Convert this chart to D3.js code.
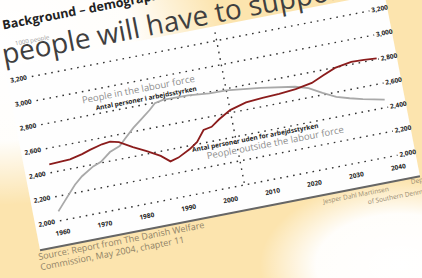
<!DOCTYPE html>
<html>
<head>
<meta charset="utf-8">
<title>Background - demographics</title>
<script src="https://d3js.org/d3.v7.min.js"></script>
<style>
  body { margin: 0; overflow: hidden; background: #fce4ae; }
  text { font-family: "Open Sans", sans-serif; }
</style>
</head>
<body>
<div id="chart"></div>
<script>
// labour force (grey, left axis), 1000 people
const labourYears = [1960, 1962, 1965, 1967, 1970, 1972, 1974.5, 1977, 1978.5, 1981, 1983, 1985.5, 1987, 1989, 1995, 2000, 2004, 2012, 2020, 2023, 2026, 2029, 2032, 2035, 2040];
const labourForce = [2074, 2150, 2262, 2319, 2380, 2405, 2469, 2502, 2550, 2628, 2679, 2744, 2790, 2804, 2802, 2785, 2783, 2748, 2704, 2672, 2612, 2558, 2527, 2499, 2461];

// outside the labour force (red, right axis)
const outsideYears = [1960, 1963, 1965, 1968, 1970, 1973, 1975, 1977, 1980, 1983, 1986, 1988, 1990, 1993, 1995, 1997, 1999, 2001, 2004, 2008, 2012, 2016, 2020, 2024, 2027, 2030, 2034, 2037, 2040];
const outsideForce = [2464, 2470, 2473, 2496, 2518, 2544, 2553, 2535, 2473, 2420, 2359, 2300, 2318, 2369, 2415, 2500, 2513, 2560, 2618, 2655, 2666, 2672, 2685, 2709, 2753, 2793, 2816, 2813, 2805];

const xTicks = [1960, 1970, 1980, 1990, 2000, 2010, 2020, 2030, 2040];
const yTicksLeft = [2000, 2200, 2400, 2600, 2800, 3000, 3200];
const yTicksRight = [2000, 2200, 2400, 2600, 2800, 3000, 3200];
const nowYear = 2004;

const W = 422, H = 278;

const svg = d3.select("#chart").append("svg")
  .attr("width", W).attr("height", H);

const defs = svg.append("defs");
const blob = (id) => {
  const g = defs.append("radialGradient").attr("id", id);
  g.append("stop").attr("offset", "0%").attr("stop-color", "#fff").attr("stop-opacity", 1);
  g.append("stop").attr("offset", "60%").attr("stop-color", "#fff").attr("stop-opacity", 0.95);
  g.append("stop").attr("offset", "100%").attr("stop-color", "#fff").attr("stop-opacity", 0);
};
blob("blobA");
blob("blobB");

// background
svg.append("rect").attr("width", W).attr("height", H).attr("fill", "#fce4ae");
svg.append("ellipse").attr("cx", 0).attr("cy", 45).attr("rx", 225).attr("ry", 160).attr("fill", "url(#blobA)");
svg.append("ellipse").attr("cx", 400).attr("cy", 265).attr("rx", 140).attr("ry", 85).attr("fill", "url(#blobB)");

// the whole slide is photographed at an angle
const slide = svg.append("g").attr("transform", "rotate(-11, 211, 139)");

// white chart panel
slide.append("rect")
  .attr("x", 22).attr("y", 29)
  .attr("width", 387).attr("height", 186)
  .attr("fill", "#fefefe");
slide.append("line")
  .attr("x1", 22).attr("x2", 409).attr("y1", 215.5).attr("y2", 215.5)
  .attr("stroke", "#666").attr("stroke-width", 2);

const x = d3.scaleLinear().domain([1960, 2040]).range([47.4, 389]);
const yL = d3.scaleLinear().domain([2000, 3200]).range([190, 43]);
const yR = d3.scaleLinear().domain([2000, 3200]).range([190, 43]);

// dotted gridlines
slide.append("g")
  .attr("transform", "translate(47,0)")
  .call(d3.axisLeft(yL).tickValues(yTicksLeft).tickSize(-344).tickFormat(""))
  .call(g => g.select(".domain").remove())
  .call(g => g.selectAll("line")
    .attr("stroke", "#333").attr("stroke-width", 1.4)
    .attr("stroke-dasharray", "1.6,5"));

// "now" line
slide.append("line")
  .attr("x1", x(nowYear)).attr("x2", x(nowYear))
  .attr("y1", 35).attr("y2", yL(2000))
  .attr("stroke", "#333").attr("stroke-width", 1.4)
  .attr("stroke-dasharray", "1.6,5");

const styleTicks = g => {
  g.select(".domain").remove();
  g.selectAll("line").remove();
  g.selectAll("text")
    .attr("fill", "#222")
    .style("font-size", "6.5px")
    .style("font-weight", "700");
};

slide.append("g")
  .attr("transform", "translate(47,0)")
  .call(d3.axisLeft(yL).tickValues(yTicksLeft).tickSize(0).tickPadding(5).tickFormat(d3.format(",")))
  .call(styleTicks);

slide.append("g")
  .attr("transform", "translate(389,0)")
  .call(d3.axisRight(yR).tickValues(yTicksRight).tickSize(0).tickPadding(4).tickFormat(d3.format(",")))
  .call(styleTicks);

slide.append("g")
  .attr("transform", "translate(0,190)")
  .call(d3.axisBottom(x).tickValues(xTicks).tickSize(0).tickPadding(10).tickFormat(d3.format("d")))
  .call(styleTicks);

// series
const labourLine = d3.line()
  .x((d, i) => x(labourYears[i]))
  .y(d => yL(d));
const outsideLine = d3.line()
  .x((d, i) => x(outsideYears[i]))
  .y(d => yR(d));

slide.append("path")
  .datum(labourForce)
  .attr("d", labourLine)
  .attr("fill", "none").attr("stroke", "#a9a9a9").attr("stroke-width", 1.8);

slide.append("path")
  .datum(outsideForce)
  .attr("d", outsideLine)
  .attr("fill", "none").attr("stroke", "#8b1c1c").attr("stroke-width", 1.8);

// annotations
slide.append("text")
  .attr("x", x(1970.4)).attr("y", yL(2900))
  .attr("fill", "#8e8e8e").style("font-size", "9.5px")
  .text("People in the labour force");
slide.append("text")
  .attr("x", x(1973.2)).attr("y", yL(2825))
  .attr("fill", "#222").style("font-size", "6.5px").style("font-weight", "700")
  .text("Antal personer i arbejdsstyrken");

slide.append("text")
  .attr("x", x(1993.5)).attr("y", yL(2340))
  .attr("fill", "#222").style("font-size", "6.5px").style("font-weight", "700")
  .text("Antal personer uden for arbejdsstyrken");
slide.append("text")
  .attr("x", x(1996.6)).attr("y", yL(2260))
  .attr("fill", "#8e8e8e").style("font-size", "9.5px")
  .text("People outside the labour force");

// slide headings
slide.append("text")
  .attr("x", 28).attr("y", -8)
  .attr("fill", "#222").style("font-size", "12.5px").style("font-weight", "700")
  .text("Background \u2013 demographics");

slide.append("text")
  .attr("x", 22).attr("y", 26)
  .attr("fill", "#3f3f3f").style("font-size", "28px")
  .text("people will have to support");

slide.append("text")
  .attr("x", 37).attr("y", 10)
  .attr("fill", "#9a9a9a").style("font-size", "6px")
  .text("1000 people");

// source and credits
slide.append("text")
  .attr("x", 19).attr("y", 225)
  .attr("fill", "#8f8266").style("font-size", "9px")
  .text("Source: Report from The Danish Welfare");
slide.append("text")
  .attr("x", 19).attr("y", 235.5)
  .attr("fill", "#8f8266").style("font-size", "9px")
  .text("Commission, May 2004, chapter 11");

slide.append("text")
  .attr("x", 309).attr("y", 224)
  .attr("fill", "#9a8d74").style("font-size", "6.5px")
  .text("Jesper Dahl Martinsen");
slide.append("text")
  .attr("x", 399).attr("y", 221.5)
  .attr("fill", "#9a8d74").style("font-size", "6.5px")
  .text("Department");
slide.append("text")
  .attr("x", 353).attr("y", 233)
  .attr("fill", "#9a8d74").style("font-size", "6.5px")
  .text("of Southern Denmark");
</script>
</body>
</html>
